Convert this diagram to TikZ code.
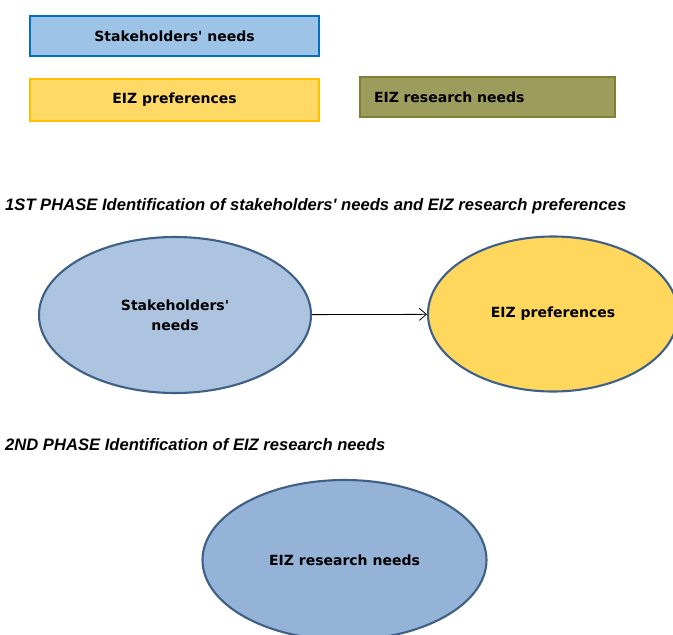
\documentclass[tikz,border=0pt]{standalone}
\usepackage{fontspec}
\setmainfont{Liberation Sans}
\newfontfamily\boxfont{DejaVu Sans}
\usetikzlibrary{arrows,arrows.meta,shapes.geometric}

\definecolor{legblue}{HTML}{9DC3E6}
\definecolor{legblueline}{HTML}{0070C0}
\definecolor{legyellow}{HTML}{FFD966}
\definecolor{legyellowline}{HTML}{FFC000}
\definecolor{legolive}{HTML}{9C9C5C}
\definecolor{legoliveline}{HTML}{7F7F36}
\definecolor{ovalline}{HTML}{3E5F88}
\definecolor{ovalblue}{HTML}{ADC4E0}
\definecolor{ovalyellow}{HTML}{FFD75C}
\definecolor{ovaldeep}{HTML}{95B3D7}

\begin{document}
\begin{tikzpicture}[
            x = 1pt, y = -1pt, % pixel-like grid, y grows downwards
            > = {Straight Barb[length=7pt, width=12pt]}, % open arrow head
            font = \boxfont\fontsize{14}{20}\selectfont\bfseries
        ]

        \tikzstyle{legend}=[
            draw,
            line width = 2.4pt,
            minimum height = 40pt,
            inner sep = 0pt
        ]
        \tikzstyle{oval}=[
            ellipse,
            draw = ovalline,
            line width = 2.1pt,
            inner sep = 0pt,
            align = center
        ]
        \tikzstyle{phase}=[
            anchor = base west,
            inner sep = 0pt,
            font = \rmfamily\fontsize{16.6}{18}\selectfont\bfseries\itshape
        ]

        \useasboundingbox (0,0) rectangle (673,635);
        \clip (0,0) rectangle (673,635);

        % legend
        \node (lsn) [legend, fill = legblue, draw = legblueline, minimum width = 289pt] at (174.5,36) {Stakeholders\textquotesingle{} needs};
        \node (lep) [legend, fill = legyellow, draw = legyellowline, minimum width = 289pt, minimum height = 42pt] at (174.5,100) {EIZ preferences};
        \node (lrn) [legend, fill = legolive, draw = legoliveline, minimum width = 255pt, text width = 227pt] at (487.5,97) {EIZ research needs};

        % first phase
        \node (p1) [phase] at (5,210) {1ST PHASE Identification of stakeholders\textquotesingle{} needs and EIZ research preferences};
        \node (sn) [oval, fill = ovalblue, minimum width = 272pt, minimum height = 156pt] at (175,315) {Stakeholders\textquotesingle\\needs};
        \node (ep) [oval, fill = ovalyellow, minimum width = 250pt, minimum height = 155pt] at (553,314) {EIZ preferences};

        \path[->, line width = 0.8pt] (sn) edge node {} (ep);

        % second phase
        \node (p2) [phase] at (5,450) {2ND PHASE Identification of EIZ research needs};
        \node (rn) [oval, fill = ovaldeep, minimum width = 284pt, minimum height = 160pt] at (344.5,560) {EIZ research needs};
    \end{tikzpicture}
\end{document}
